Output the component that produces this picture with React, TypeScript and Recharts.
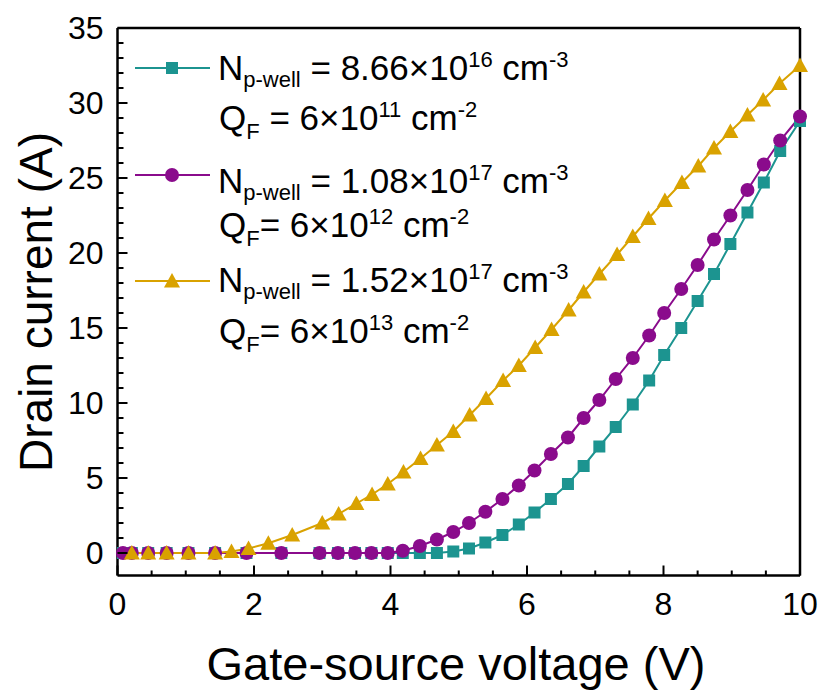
import React from 'react';
import { LineChart, Line, XAxis, YAxis } from 'recharts';

// gate-source voltage sweeps (V) and drain current (A)
const sharedX = [0.08, 0.21, 0.45, 0.72, 1.04, 1.43, 1.89, 2.40, 2.96, 3.23, 3.48, 3.72, 3.96, 4.18, 4.43, 4.68, 4.92, 5.15, 5.39, 5.64, 5.88, 6.11, 6.35, 6.60, 6.83, 7.06, 7.30, 7.55, 7.79, 8.01, 8.26, 8.50, 8.74, 8.98, 9.23, 9.47, 9.71, 10];
const tealY = [0, 0, 0, 0, 0, 0, 0, 0, 0, 0, 0, 0, 0, 0, 0, 0, 0.1, 0.3, 0.7, 1.2, 1.9, 2.7, 3.6, 4.6, 5.8, 7.1, 8.4, 9.9, 11.5, 13.2, 15.0, 16.8, 18.6, 20.6, 22.7, 24.7, 26.8, 28.8];
const purpleY = [0, 0, 0, 0, 0, 0, 0, 0, 0, 0, 0, 0, 0, 0.15, 0.47, 0.9, 1.4, 2.0, 2.75, 3.6, 4.5, 5.5, 6.6, 7.7, 9.0, 10.2, 11.6, 13.0, 14.5, 16.0, 17.6, 19.2, 20.9, 22.5, 24.2, 25.9, 27.5, 29.1];
const yellowX = [0.21, 0.45, 0.72, 1.04, 1.43, 1.67, 1.92, 2.21, 2.56, 3.0, 3.24, 3.50, 3.73, 3.96, 4.19, 4.44, 4.68, 4.92, 5.16, 5.40, 5.65, 5.88, 6.12, 6.36, 6.61, 6.83, 7.06, 7.32, 7.55, 7.78, 8.02, 8.27, 8.51, 8.74, 8.98, 9.23, 9.46, 9.70, 10];
const yellowY = [0, 0, 0, 0, 0, 0.1, 0.3, 0.65, 1.2, 2.0, 2.6, 3.3, 3.9, 4.6, 5.4, 6.3, 7.2, 8.1, 9.2, 10.3, 11.5, 12.5, 13.7, 14.9, 16.2, 17.4, 18.6, 19.9, 21.1, 22.3, 23.5, 24.7, 25.8, 27.0, 28.1, 29.2, 30.2, 31.3, 32.5];

const xTicks = [0, 2, 4, 6, 8, 10];
const yTicks = [0, 5, 10, 15, 20, 25, 30, 35];
const xMinor = Array.from({ length: 21 }, (_, i) => i * 0.5);
const yMinor = Array.from({ length: 36 }, (_, i) => i);

// legend text pieces
const nWell = ['8.66', '1.08', '1.52'];
const nExp = ['16', '17', '17'];
const qExp = ['11', '12', '13'];
const qEq = [' = 6×10', '= 6×10', '= 6×10'];

const TEAL = '#1c9490';
const PURPLE = '#8a0b8c';
const YELLOW = '#d9a200';
const FONT = '"Liberation Sans", Arial, sans-serif';

const teal = sharedX.map((x, i) => ({ x, y: tealY[i] }));
const purple = sharedX.map((x, i) => ({ x, y: purpleY[i] }));
const yellow = yellowX.map((x, i) => ({ x, y: yellowY[i] }));

const W = 815;
const H = 686;
// plot box: left 109.5, right 792, top 20, bottom 567.5 (chart coords)
const M = { top: 19, right: 22, bottom: H - 567.5 - 1, left: 108.5 };

const square = (cx: number, cy: number, color: string, key?: any) => (
  <rect key={key} x={cx - 6} y={cy - 6} width={12} height={12} fill={color} />
);
const circle = (cx: number, cy: number, color: string, key?: any) => (
  <circle key={key} cx={cx} cy={cy} r={7} fill={color} />
);
const triangle = (cx: number, cy: number, color: string, key?: any) => (
  <path key={key} d={`M${cx},${cy - 8}L${cx + 8},${cy + 6.5}L${cx - 8},${cy + 6.5}Z`} fill={color} />
);

const markers = [
  { color: TEAL, shape: square },
  { color: PURPLE, shape: circle },
  { color: YELLOW, shape: triangle },
];

const tickStroke = { stroke: '#000', strokeWidth: 2 };
const isMajor = (v: number, list: number[]) => list.includes(v);

const BottomTick = (p: any) => {
  const major = isMajor(p.payload.value, xTicks);
  return (
    <g>
      <line x1={p.x} x2={p.x} y1={p.y} y2={p.y - (major ? 10 : 5)} {...tickStroke} />
      {major && (
        <text x={p.x} y={p.y + 39} textAnchor="middle" fontSize={32} fontFamily={FONT} fill="#000">
          {p.payload.value}
        </text>
      )}
    </g>
  );
};
const TopTick = (p: any) => {
  const major = isMajor(p.payload.value, xTicks);
  return <line x1={p.x} x2={p.x} y1={p.y} y2={p.y + (major ? 10 : 5)} {...tickStroke} />;
};
const LeftTick = (p: any) => {
  const major = isMajor(p.payload.value, yTicks);
  return (
    <g>
      <line x1={p.x} x2={p.x + (major ? 10 : 6)} y1={p.y} y2={p.y} {...tickStroke} />
      {major && (
        <text x={p.x - 14} y={p.y + 11.4} textAnchor="end" fontSize={32} fontFamily={FONT} fill="#000">
          {p.payload.value}
        </text>
      )}
    </g>
  );
};
const RightTick = (p: any) => {
  const major = isMajor(p.payload.value, yTicks);
  return <line x1={p.x} x2={p.x - (major ? 10 : 6)} y1={p.y} y2={p.y} {...tickStroke} />;
};

const Legend = () => {
  const rows = [0, 1, 2];
  const lineY = [60, 167, 273];
  const nBase = [72, 185, 284];
  const qBase = [122, 229, 335];
  return (
    <svg width={W} height={H} style={{ position: 'absolute', left: 0, top: 0, pointerEvents: 'none' }}>
      {rows.map((i) => (
        <g key={i} fontFamily={FONT} fill="#000">
          <line x1={127} x2={202} y1={lineY[i]} y2={lineY[i]} stroke={markers[i].color} strokeWidth={2} />
          {markers[i].shape(164, lineY[i], markers[i].color)}
          <text x={210} y={nBase[i]} fontSize={35}>
            N
            <tspan fontSize={22} dy={7}>p-well</tspan>
            <tspan dy={-7}>{` = ${nWell[i]}×10`}</tspan>
            <tspan fontSize={22} dy={-13}>{nExp[i]}</tspan>
            <tspan dy={13}> cm</tspan>
            <tspan fontSize={22} dy={-13}>-3</tspan>
          </text>
          <text x={211} y={qBase[i]} fontSize={35}>
            Q
            <tspan fontSize={22} dy={9}>F</tspan>
            <tspan dy={-9}>{qEq[i]}</tspan>
            <tspan fontSize={22} dy={-13}>{qExp[i]}</tspan>
            <tspan dy={13}> cm</tspan>
            <tspan fontSize={22} dy={-13}>-2</tspan>
          </text>
        </g>
      ))}
      <text x={448} y={672} textAnchor="middle" fontSize={47} fontFamily={FONT} fill="#000">
        Gate-source voltage (V)
      </text>
      <text
        x={44}
        y={294}
        transform="rotate(-90, 44, 294)"
        textAnchor="middle"
        fontSize={46}
        fontFamily={FONT}
        fill="#000"
      >
        Drain current (A)
      </text>
    </svg>
  );
};

export default function App() {
  const axisLine = { stroke: '#000', strokeWidth: 2.5 };
  const common = { tickSize: 0, tickMargin: 0, tickLine: false, interval: 0 as const, axisLine };
  return (
    <div style={{ position: 'relative', width: W, height: H, fontFamily: FONT }}>
      <LineChart width={W} height={H} margin={M}>
        <XAxis xAxisId="b" dataKey="x" type="number" domain={[0, 10]} ticks={xMinor} height={1} tick={BottomTick} {...common} />
        <XAxis xAxisId="t" orientation="top" dataKey="x" type="number" domain={[0, 10]} ticks={xMinor} height={1} tick={TopTick} {...common} />
        <YAxis yAxisId="l" type="number" domain={[-1.5, 35]} ticks={yMinor} width={1} tick={LeftTick} {...common} />
        <YAxis yAxisId="r" orientation="right" type="number" domain={[-1.5, 35]} ticks={yMinor} width={1} tick={RightTick} {...common} />
        {[teal, purple, yellow].map((d, i) => (
          <Line
            key={i}
            data={d}
            dataKey="y"
            xAxisId="b"
            yAxisId="l"
            type="linear"
            stroke={markers[i].color}
            strokeWidth={2}
            dot={(p: any) => markers[i].shape(p.cx, p.cy, markers[i].color, p.key ?? `${i}-${p.index}`)}
            activeDot={false}
            isAnimationActive={false}
          />
        ))}
      </LineChart>
      <Legend />
    </div>
  );
}
